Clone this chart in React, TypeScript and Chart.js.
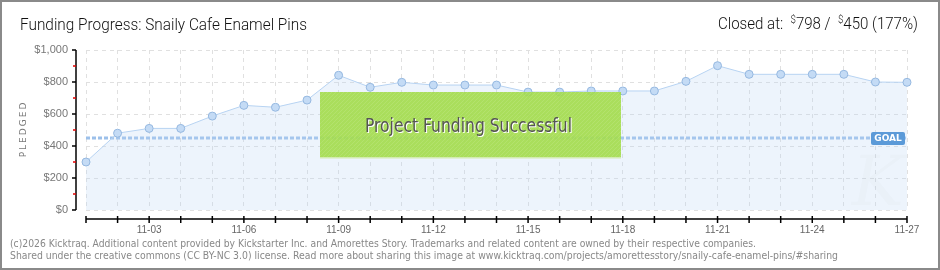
import React, { useEffect, useRef } from "react";
import { Chart, registerables } from "chart.js";

Chart.register(...registerables);

const days: string[] = [
  "11-01", "11-02", "11-03", "11-04", "11-05", "11-06", "11-07", "11-08", "11-09",
  "11-10", "11-11", "11-12", "11-13", "11-14", "11-15", "11-16", "11-17", "11-18",
  "11-19", "11-20", "11-21", "11-22", "11-23", "11-24", "11-25", "11-26", "11-27",
];
const pledged: number[] = [
  300, 480, 510, 510, 587, 654, 642, 687, 842,
  767, 798, 781, 781, 781, 737, 737, 744, 744,
  744, 804, 902, 848, 848, 848, 848, 800, 798,
];
const yTicks: number[] = [0, 200, 400, 600, 800, 1000];
const goal = 450;
const raised = 798;
const percent = 177;

const title = "Funding Progress: Snaily Cafe Enamel Pins";
const successText = "Project Funding Successful";
const footer1 =
  "(c)2026 Kicktraq. Additional content provided by Kickstarter Inc. and Amorettes Story. Trademarks and related content are owned by their respective companies.";
const footer2 =
  "Shared under the creative commons (CC BY-NC 3.0) license. Read more about sharing this image at www.kicktraq.com/projects/amorettesstory/snaily-cafe-enamel-pins/#sharing";

const fmtMoney = (v: number) => "$" + v.toLocaleString("en-US");

const decorPlugin = {
  id: "decor",
  beforeDatasetsDraw(chart: any) {
    const { ctx, chartArea, scales } = chart;
    const y = scales.y.getPixelForValue(goal);
    ctx.save();
    ctx.strokeStyle = "#9cc0ea";
    ctx.lineWidth = 3;
    ctx.setLineDash([4, 2]);
    ctx.beginPath();
    ctx.moveTo(chartArea.left, y);
    ctx.lineTo(chartArea.right, y);
    ctx.stroke();
    ctx.restore();
  },
  afterDatasetsDraw(chart: any) {
    const { ctx, chartArea, scales } = chart;
    const xs = scales.x;
    const ys = scales.y;
    ctx.save();

    // success banner
    const bx = chartArea.left + 234;
    const by = chartArea.top + 42;
    const bw = 301;
    const bh = 65;
    ctx.globalAlpha = 0.9;
    ctx.fillStyle = "#a3db4b";
    ctx.fillRect(bx, by, bw, bh);
    ctx.globalAlpha = 1;
    ctx.save();
    ctx.beginPath();
    ctx.rect(bx, by, bw, bh);
    ctx.clip();
    ctx.strokeStyle = "rgba(255,255,255,0.10)";
    ctx.lineWidth = 1;
    for (let i = -bh; i < bw + bh; i += 4) {
      ctx.beginPath();
      ctx.moveTo(bx + i, by + bh);
      ctx.lineTo(bx + i + bh, by);
      ctx.stroke();
    }
    ctx.restore();
    ctx.fillStyle = "#d3ebb0";
    ctx.fillRect(bx, by + bh, bw, 1.5);

    ctx.font = "20px 'DejaVu Sans Condensed', 'DejaVu Sans'";
    ctx.textAlign = "center";
    ctx.textBaseline = "alphabetic";
    ctx.fillStyle = "#ffffff";
    ctx.fillText(successText, bx + bw / 2 - 2 + 1, by + 40 + 1, 207);
    ctx.fillStyle = "#555555";
    ctx.fillText(successText, bx + bw / 2 - 2, by + 40, 207);

    // GOAL tag
    const gy = ys.getPixelForValue(goal);
    const gx = chartArea.right - 36;
    ctx.fillStyle = "#5b9ad8";
    ctx.beginPath();
    (ctx as any).roundRect(gx, gy - 6, 34, 13, 2);
    ctx.fill();
    ctx.fillStyle = "#ffffff";
    ctx.font = "bold 9px 'DejaVu Sans'";
    ctx.textAlign = "center";
    ctx.textBaseline = "middle";
    ctx.fillText("GOAL", gx + 17, gy + 0.5, 30);

    // y axis
    const ax = chartArea.left - 10;
    ctx.strokeStyle = "#000";
    ctx.lineWidth = 1.5;
    ctx.beginPath();
    ctx.moveTo(ax, ys.getPixelForValue(0));
    ctx.lineTo(ax, ys.getPixelForValue(1000));
    ctx.stroke();
    ctx.lineWidth = 1.5;
    for (const t of yTicks) {
      const ty = ys.getPixelForValue(t);
      ctx.strokeStyle = "#000";
      ctx.beginPath();
      ctx.moveTo(ax - 4, ty);
      ctx.lineTo(ax, ty);
      ctx.stroke();
      if (t < 1000) {
        const my = ys.getPixelForValue(t + 100);
        ctx.strokeStyle = "#e00000";
        ctx.beginPath();
        ctx.moveTo(ax - 3, my);
        ctx.lineTo(ax, my);
        ctx.stroke();
      }
    }

    // x axis
    const axy = chartArea.bottom + 9;
    ctx.strokeStyle = "#000";
    ctx.lineWidth = 1.5;
    ctx.beginPath();
    ctx.moveTo(xs.getPixelForValue(0), axy);
    ctx.lineTo(xs.getPixelForValue(days.length - 1), axy);
    ctx.stroke();
    for (let i = 0; i < days.length; i++) {
      const tx = xs.getPixelForValue(i);
      ctx.beginPath();
      ctx.moveTo(tx, axy - 3);
      ctx.lineTo(tx, axy + 4);
      ctx.stroke();
    }
    ctx.restore();
  },
  afterDraw(chart: any) {
    const { ctx, width, height } = chart;
    ctx.save();

    // watermark
    ctx.fillStyle = "rgba(0,0,0,0.015)";
    ctx.font = "italic 70px 'DejaVu Serif'";
    ctx.textAlign = "center";
    ctx.textBaseline = "alphabetic";
    ctx.fillText("K", 878, 205);

    // title
    ctx.fillStyle = "#111";
    ctx.font = "300 17px Roboto";
    ctx.textAlign = "left";
    ctx.fillText(title, 20, 30, 287);

    // closed at (condensed to reference width)
    const big = "300 17px Roboto";
    const small = "300 11px Roboto";
    const parts: [string, string, number][] = [
      ["Closed at:  ", big, 0],
      ["$", small, -6],
      [String(raised) + " /  ", big, 0],
      ["$", small, -6],
      [String(goal) + " (" + percent + "%)", big, 0],
    ];
    let total = 0;
    for (const [t, f] of parts) {
      ctx.font = f;
      total += ctx.measureText(t).width;
    }
    const target = 200;
    const sx = target / total;
    ctx.save();
    ctx.translate(918 - target, 0);
    ctx.scale(sx, 1);
    let cx = 0;
    for (const [t, f, dy] of parts) {
      ctx.font = f;
      ctx.fillText(t, cx, 29 + dy);
      cx += ctx.measureText(t).width;
    }
    ctx.restore();

    // PLEDGED
    ctx.save();
    ctx.translate(26, 130);
    ctx.rotate(-Math.PI / 2);
    ctx.fillStyle = "#777";
    ctx.font = "9px 'DejaVu Sans'";
    (ctx as any).letterSpacing = "2px";
    ctx.textAlign = "center";
    ctx.fillText("PLEDGED", 1, 0);
    ctx.restore();

    // footer
    ctx.fillStyle = "#888";
    ctx.font = "11px 'DejaVu Sans'";
    ctx.textAlign = "left";
    ctx.fillText(footer1, 10, 247, 746);
    ctx.fillText(footer2, 10, 259, 828);

    // border
    ctx.strokeStyle = "#8a8a8a";
    ctx.lineWidth = 2;
    ctx.strokeRect(1, 1, width - 2, height - 2);
    ctx.restore();
  },
};

export default function App() {
  const ref = useRef<HTMLCanvasElement | null>(null);

  useEffect(() => {
    if (!ref.current) return;
    const chart = new Chart(ref.current, {
      type: "line",
      data: {
        labels: days,
        datasets: [
          {
            data: pledged,
            fill: "origin",
            backgroundColor: "rgba(190,216,246,0.28)",
            borderColor: "#b7d3f2",
            borderWidth: 1,
            tension: 0,
            pointRadius: 4,
            pointBackgroundColor: "#c4dbf5",
            pointBorderColor: "#95b8e0",
            pointBorderWidth: 1,
          },
        ],
      },
      options: {
        responsive: false,
        animation: false,
        layout: { padding: { left: 10, top: 50, right: 33, bottom: 30 } },
        plugins: {
          legend: { display: false },
          tooltip: { enabled: false },
          title: { display: false },
        },
        scales: {
          x: {
            type: "category",
            offset: false,
            grid: { color: "#e0e0e0", drawTicks: false, lineWidth: 1 },
            border: { display: false, dash: [4, 4] },
            ticks: {
              autoSkip: false,
              maxRotation: 0,
              minRotation: 0,
              padding: 14,
              color: "#666",
              font: { family: "'Liberation Sans'", size: 10 },
              callback: (_v: any, i: number) => (i % 3 === 2 ? days[i] : ""),
            },
            afterFit: (s: any) => {
              s.height = 30;
            },
          },
          y: {
            min: 0,
            max: 1000,
            grid: { color: "#e0e0e0", drawTicks: false, lineWidth: 1 },
            border: { display: false, dash: [4, 4] },
            ticks: {
              stepSize: 200,
              padding: 18,
              color: "#777",
              font: { family: "'Liberation Sans'", size: 11 },
              callback: (v: any) => (yTicks.includes(Number(v)) ? fmtMoney(Number(v)) : ""),
            },
            afterFit: (s: any) => {
              s.width = 76;
            },
          },
        },
      },
      plugins: [decorPlugin],
    });
    return () => chart.destroy();
  }, []);

  return (
    <div style={{ position: "absolute", left: 0, top: 0, width: 940, height: 270, background: "#fff" }}>
      <canvas ref={ref} width={940} height={270} style={{ width: 940, height: 270, display: "block" }} />
    </div>
  );
}
